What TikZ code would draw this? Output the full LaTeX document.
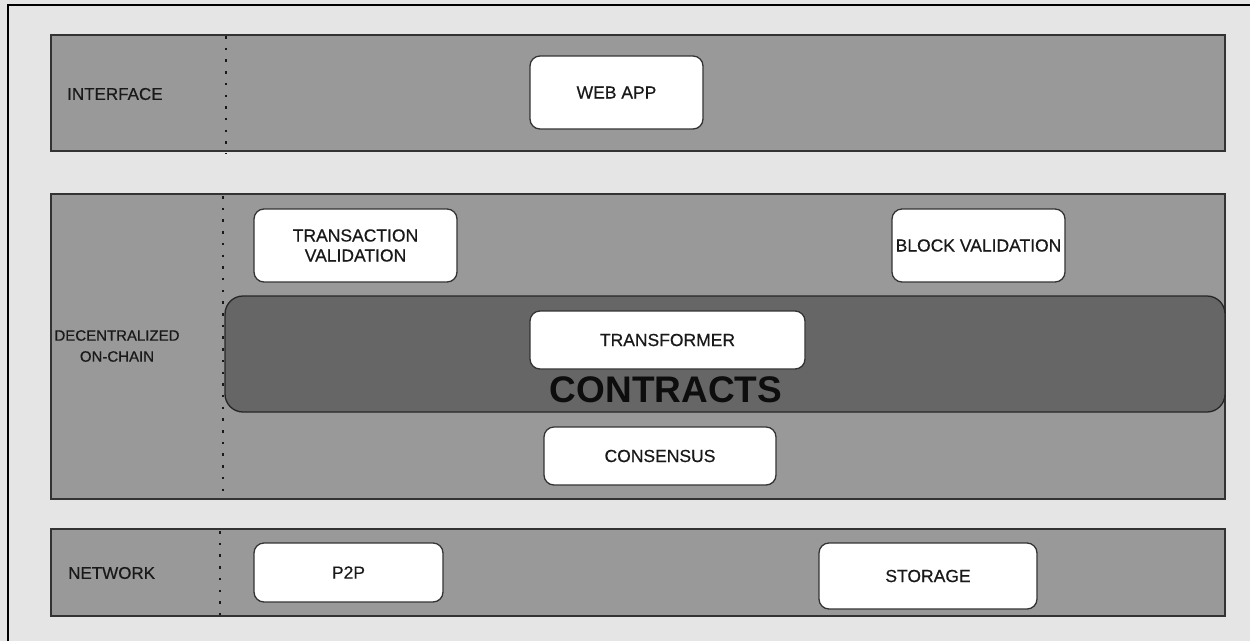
\documentclass[tikz,border=0pt]{standalone}
\usepackage{fontspec}
\setmainfont{Liberation Sans}
\newfontfamily\heavyfont[FakeBold=0.5]{Liberation Sans}
\begin{document}
\begin{tikzpicture}[x=1pt,y=-1pt,
  band/.style={draw=black!80, line width=1.4pt, fill=black!40, minimum width=1174pt, inner sep=0pt},
  wbox/.style={draw=black!80, line width=1.3pt, fill=white, rounded corners=10pt, inner sep=0pt, text=black!90,
    font=\heavyfont\fontsize{17.5}{20}\selectfont, align=center},
  lbl/.style={inner sep=0pt, text=black!90, font=\heavyfont\fontsize{17}{21}\selectfont, align=center},
  dots/.style={line width=2.5pt, dash pattern=on 2.5pt off 9.2pt, black!90}
]
\useasboundingbox (0,0) rectangle (1250,641);
\fill[black!10] (0,0) rectangle (1250,641);
\draw[line width=1.5pt] (8,641) -- (8,5) -- (1250,5);

% bands
\node[band, minimum height=116pt] (iface) at (638,93) {};
\node[band, minimum height=305pt] (chain) at (638,346.5) {};
\node[band, minimum height=87pt] (net) at (638,572.5) {};

% dotted separators
\draw[dots] (226,36) -- (226,154);
\draw[dots] (223,196) -- (223,500);
\draw[dots] (220,531) -- (220,617);

% layer labels
\node[lbl, anchor=west] (lif) at (67,94) {INTERFACE};
\node[lbl, font=\heavyfont\fontsize{15}{21}\selectfont] (lch) at (117,346) {DECENTRALIZED\\ON-CHAIN};
\node[lbl, anchor=west] (lnet) at (68,573) {NETWORK};

% contracts container
\node[draw=black!85, line width=1.3pt, fill=black!60, rounded corners=18pt, minimum width=1000pt, minimum height=116pt, inner sep=0pt] (contracts) at (725,354) {};
\node[inner sep=0pt, font=\fontsize{37}{40}\selectfont\bfseries, text=black!95] (ctext) at (666,390) {CONTRACTS};

% boxes
\node[wbox, minimum width=173pt, minimum height=73pt] (webapp) at (616.5,92.5) {WEB APP};
\node[wbox, minimum width=203pt, minimum height=73pt] (txval) at (355.5,245.5) {TRANSACTION\\VALIDATION};
\node[wbox, minimum width=173pt, minimum height=73pt] (blkval) at (978.5,245.5) {BLOCK VALIDATION};
\node[wbox, minimum width=275pt, minimum height=58pt] (transf) at (667.5,340) {TRANSFORMER};
\node[wbox, minimum width=232pt, minimum height=58pt] (cons) at (660,456) {CONSENSUS};
\node[wbox, minimum width=189pt, minimum height=59pt] (p2p) at (348.5,572.5) {P2P};
\node[wbox, minimum width=218pt, minimum height=66pt] (storage) at (928,576) {STORAGE};
\end{tikzpicture}
\end{document}
